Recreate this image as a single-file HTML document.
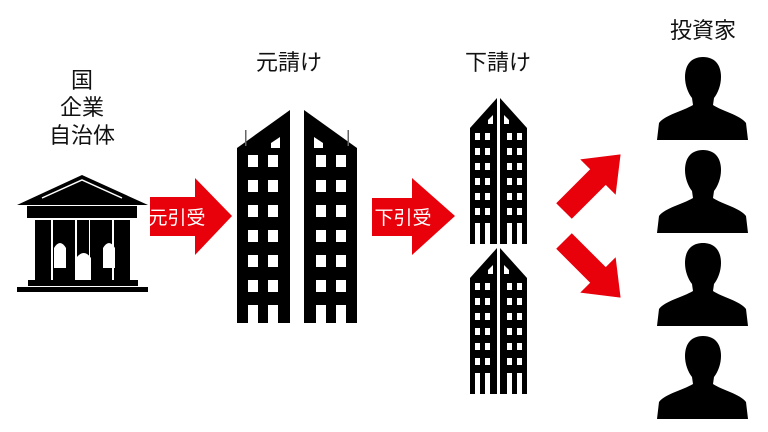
<!DOCTYPE html>
<html><head><meta charset="utf-8"><style>
html,body{margin:0;padding:0;background:#fff;width:768px;height:432px;overflow:hidden}
svg{display:block}
text{font-family:"Liberation Sans","Noto Sans CJK JP",sans-serif;}
</style></head><body>
<svg width="768" height="432" viewBox="0 0 768 432" xmlns="http://www.w3.org/2000/svg">
<defs>
 <g id="person">
  <path d="M0,0 C-12,0 -18,8 -18,20 C-18,28 -15,36 -11,41 L-10,48 C-20,54 -38,58 -44,66 L-46,83 L45,83 L43,66 C37,58 19,54 10,48 L11,41 C15,36 18,28 18,20 C18,8 12,0 0,0 Z" fill="#000"/>
 </g>
 <g id="bigL">
  <path d="M0,38 L53,0 L53,213 L0,213 Z" fill="#000"/>
  <g fill="#fff">
   <path d="M34,33 L43,27 L43,38 L34,38Z"/>
   <rect x="11" y="45" width="10" height="12"/><rect x="31" y="45" width="10" height="12"/>
   <rect x="11" y="70" width="10" height="12"/><rect x="31" y="70" width="10" height="12"/>
   <rect x="11" y="95" width="10" height="12"/><rect x="31" y="95" width="10" height="12"/>
   <rect x="11" y="120" width="10" height="12"/><rect x="31" y="120" width="10" height="12"/>
   <rect x="11" y="145" width="10" height="12"/><rect x="31" y="145" width="10" height="12"/>
   <rect x="11" y="170" width="10" height="12"/><rect x="31" y="170" width="10" height="12"/>
   <rect x="11" y="195" width="10" height="18"/><rect x="31" y="195" width="10" height="18"/>
  </g>
  <rect x="8" y="20" width="1.5" height="16" fill="#666"/>
 </g>
 <g id="smallL">
  <path d="M0,30 L27,0 L27,146 L0,146 Z" fill="#000"/>
  <g fill="#fff">
   <path d="M18,22 L23,17 L23,26 L18,26Z"/>
   <rect x="5" y="35" width="5" height="7"/><rect x="15" y="35" width="5" height="7"/>
   <rect x="5" y="50" width="5" height="7"/><rect x="15" y="50" width="5" height="7"/>
   <rect x="5" y="65" width="5" height="7"/><rect x="15" y="65" width="5" height="7"/>
   <rect x="5" y="80" width="5" height="7"/><rect x="15" y="80" width="5" height="7"/>
   <rect x="5" y="95" width="5" height="7"/><rect x="15" y="95" width="5" height="7"/>
   <rect x="5" y="110" width="5" height="7"/><rect x="15" y="110" width="5" height="7"/>
   <rect x="5" y="125" width="5" height="21"/><rect x="15" y="125" width="5" height="21"/>
  </g>
 </g>
 <path id="darr" d="M0,-11 L48,-11 L48,-25 L80,0 L48,25 L48,11 L0,11 Z" fill="#e8000b"/>
</defs>

<g font-size="22" fill="#111" text-anchor="middle">
 <text x="82" y="88">国</text>
 <text x="82" y="115">企業</text>
 <text x="82" y="143">自治体</text>
 <text x="289" y="70">元請け</text>
 <text x="498" y="70">下請け</text>
 <text x="703" y="38">投資家</text>
</g>

<g fill="#000">
 <path d="M17,205 L82,175 L148,205 Z"/>
 <path d="M42,198 L82,180 L122,198" fill="none" stroke="#fff" stroke-width="1.5"/>
 <rect x="27" y="206" width="110" height="12"/>
 <rect x="35" y="220" width="16" height="60"/>
 <rect x="53" y="220" width="22" height="60"/>
 <rect x="77" y="220" width="12" height="60"/>
 <rect x="90" y="220" width="22" height="60"/>
 <rect x="114" y="220" width="16" height="60"/>
 <rect x="28" y="280" width="110" height="6"/>
 <rect x="17" y="287" width="131" height="5"/>
</g>
<g fill="#fff">
 <path d="M54,268 L54,248 Q60,238 66,248 L66,268Z"/>
 <path d="M103,268 L103,248 Q109,238 115,248 L115,268Z"/>
 <path d="M76,280 L76,258 Q84,248 91,258 L91,280Z"/>
</g>

<use href="#bigL" x="237" y="110"/>
<use href="#bigL" transform="translate(357,110) scale(-1,1)"/>

<use href="#smallL" x="470" y="98"/>
<use href="#smallL" transform="translate(527,98) scale(-1,1)"/>
<use href="#smallL" x="470" y="248"/>
<use href="#smallL" transform="translate(527,248) scale(-1,1)"/>

<path d="M150,197 L195,197 L195,178 L232,216 L195,255 L195,236 L150,236 Z" fill="#e8000b"/>
<text x="177" y="224" font-size="19" fill="#fff" text-anchor="middle">元引受</text>
<path d="M372,198 L412,198 L412,178 L455,216 L412,255 L412,236 L372,236 Z" fill="#e8000b"/>
<text x="403" y="224" font-size="19" fill="#fff" text-anchor="middle">下引受</text>

<use href="#darr" transform="translate(564,211) rotate(-45)"/>
<use href="#darr" transform="translate(564,241) rotate(45)"/>

<use href="#person" x="703" y="57"/>
<use href="#person" x="703" y="150"/>
<use href="#person" x="703" y="243"/>
<use href="#person" x="703" y="336"/>
</svg>
</body></html>
